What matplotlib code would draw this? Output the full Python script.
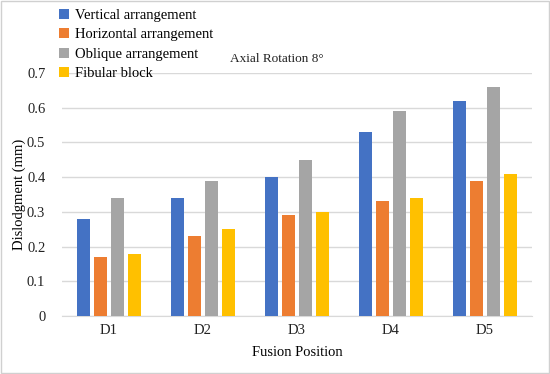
import matplotlib
matplotlib.use("Agg")
import matplotlib.pyplot as plt
import numpy as np
from matplotlib.patches import Rectangle

categories = ["D1", "D2", "D3", "D4", "D5"]
series_names = ["Vertical arrangement", "Horizontal arrangement", "Oblique arrangement", "Fibular block"]
vertical = [0.28, 0.34, 0.40, 0.53, 0.62]
horizontal = [0.17, 0.23, 0.29, 0.33, 0.39]
oblique = [0.34, 0.39, 0.45, 0.59, 0.66]
fibular = [0.18, 0.25, 0.30, 0.34, 0.41]
yticks = [0, 0.1, 0.2, 0.3, 0.4, 0.5, 0.6, 0.7]
ytick_labels = ["0", "0.1", "0.2", "0.3", "0.4", "0.5", "0.6", "0.7"]
colors = ["#4472C4", "#ED7D31", "#A5A5A5", "#FFC000"]

plt.rcParams['font.family'] = ['Liberation Serif', 'DejaVu Serif']

fig = plt.figure(figsize=(5.5, 3.74), dpi=100)
ax = fig.add_axes([62/550, 1-316/374, 470/550, (316-73)/374])

x = np.arange(len(categories))
w = 0.143
pitch = 0.18
for i, (vals, c, name) in enumerate(zip([vertical, horizontal, oblique, fibular], colors, series_names)):
    ax.bar(x + (i - 1.5) * pitch, vals, width=w, color=c, label=name, zorder=3)

ax.set_xlim(-0.5, len(categories) - 0.5)
ax.set_ylim(0, 0.7)
ax.set_yticks(yticks)
ax.set_yticklabels(ytick_labels)
ax.set_xticks(x)
ax.set_xticklabels(categories)
ax.tick_params(axis='both', length=0, labelsize=10.5, colors='#222222')
ax.tick_params(axis='y', pad=12)
ax.tick_params(axis='x', pad=6)
ax.yaxis.grid(True, color='#d9d9d9', linewidth=1, zorder=0)
for s in ['top', 'right', 'left']:
    ax.spines[s].set_visible(False)
ax.spines['bottom'].set_color('#d9d9d9')
ax.set_ylabel("Dislodgment (mm)", fontsize=10.5, labelpad=1)
ax.set_xlabel("Fusion Position", fontsize=10.5, labelpad=6)

fig.text(277/550, 1-59/374, "Axial Rotation 8°", fontsize=9.5, ha='center', va='center', color='#222222')

leg = fig.legend(loc='upper left', bbox_to_anchor=(53/550, 1-3/374), frameon=False,
                 fontsize=10.5, handlelength=0.7, handleheight=0.7, handletextpad=0.4,
                 labelspacing=0.42, borderaxespad=0)

fig.patches.append(Rectangle((0.002, 0.003), 0.996, 0.994, transform=fig.transFigure,
                             fill=False, edgecolor='#d0d0d0', linewidth=1))

fig.savefig("out.png", dpi=100)
